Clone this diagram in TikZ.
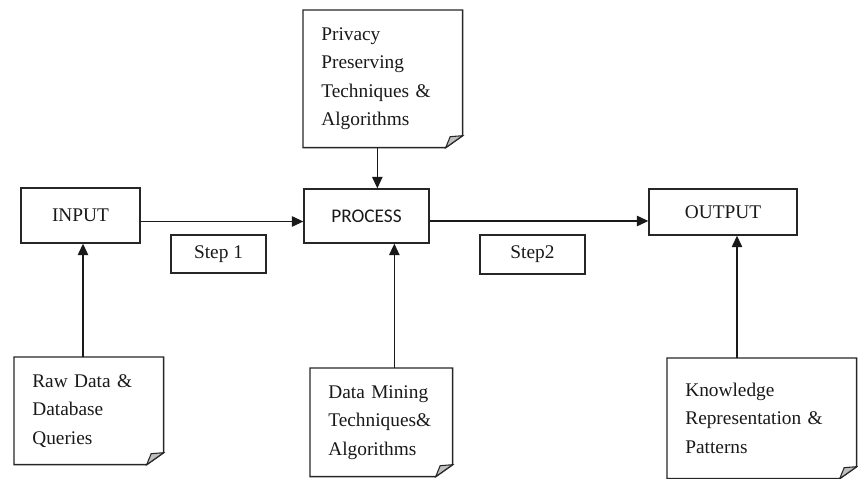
\documentclass[tikz,border=0pt]{standalone}
\usepackage{fontspec}
\setmainfont{Liberation Serif}
\newfontfamily\calibri{Carlito}
\usetikzlibrary{arrows.meta}

% borde de hoja con la esquina doblada
\newcommand{\hojaborde}[1]{%
  \draw[line width=0.8pt, draw=black!85] (#1.north west) -- (#1.north east)
    -- ([yshift=0.24cm]#1.south east) -- ([xshift=-0.34cm]#1.south east)
    -- (#1.south west) -- cycle;
  \filldraw[fill=black!25, draw=black!85, line width=0.6pt]
    ([yshift=0.24cm]#1.south east) -- ([xshift=-0.34cm]#1.south east)
    -- ([xshift=-0.25cm,yshift=0.22cm]#1.south east) -- cycle;
}

\begin{document}
\begin{tikzpicture}[
        x=0.02cm, y=-0.02cm,
        every node/.style={
            font=\fontsize{11}{16.2}\selectfont,
            text=black!90
        },
        caja/.style={
            rectangle,
            draw=black!85,
            line width=0.8pt,
            inner sep=0pt
        },
        hoja/.style={
            rectangle,
            anchor=north west,
            align=left,
            inner xsep=0.36cm,
            inner ysep=0pt
        },
        flecha/.style={
            line width=0.7pt,
            draw=black!90,
            -{Triangle[length=0.23cm,width=0.21cm]}
        }
    ]
    \useasboundingbox (0,0) rectangle (858,479);

    % Cajas
    \node[caja, minimum width=2.38cm, minimum height=1.10cm] (input)   at (80.5,215.5) {INPUT};
    \node[caja, minimum width=2.50cm, minimum height=1.08cm] (process) at (366.5,216)  {\calibri PROCESS};
    \node[caja, minimum width=2.96cm, minimum height=0.92cm] (output)  at (723,212)    {OUTPUT};
    \node[caja, minimum width=1.90cm, minimum height=0.76cm] (step1)   at (218.5,254)  {Step 1};
    \node[caja, minimum width=2.10cm, minimum height=0.78cm] (step2)   at (532.5,254.5) {Step2};

    % Hojas
    \node[hoja, minimum width=3.18cm, minimum height=2.74cm, text width=2.46cm] (privacy) at (303,10)
        {Privacy\\Preserving\\Techniques \&\\Algorithms};
    \node[hoja, minimum width=2.98cm, minimum height=2.14cm, text width=2.26cm] (rawdata) at (14,357)
        {Raw Data \&\\Database\\Queries};
    \node[hoja, minimum width=2.84cm, minimum height=2.16cm, text width=2.12cm] (mining) at (310,368)
        {Data Mining\\Techniques\&\\Algorithms};
    \node[hoja, minimum width=3.78cm, minimum height=2.40cm, text width=3.06cm] (knowledge) at (667,358)
        {Knowledge\\Representation \&\\Patterns};

    \hojaborde{privacy}
    \hojaborde{rawdata}
    \hojaborde{mining}
    \hojaborde{knowledge}

    % Flechas
    \draw[flecha] ([yshift=-0.12cm]input.east) -- ([yshift=-0.12cm]input.east -| process.west);
    \draw[flecha] ([yshift=-0.10cm]process.east) -- ([yshift=-0.10cm]process.east -| output.west);
    \draw[flecha] ([xshift=0.05cm]input.south |- rawdata.north) -- ([xshift=0.05cm]input.south);
    \draw[flecha] ([xshift=0.26cm]mining.north) -- ([xshift=0.26cm]mining.north |- process.south);
    \draw[flecha] ([xshift=-0.11cm]privacy.south) -- ([xshift=-0.11cm]privacy.south |- process.north);
    \draw[flecha] ([xshift=0.28cm]output.south |- knowledge.north) -- ([xshift=0.28cm]output.south);

\end{tikzpicture}
\end{document}
